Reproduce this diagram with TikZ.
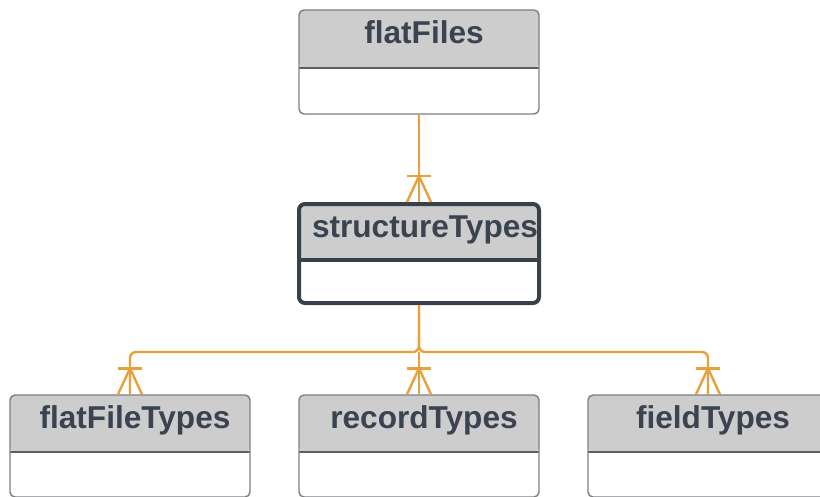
\documentclass[tikz,border=0pt]{standalone}
\usepackage{fontspec}
\setmainfont{Liberation Sans}
\definecolor{hdr}{HTML}{CDCDCD}
\definecolor{boxline}{HTML}{7C7E82}
\definecolor{divline}{HTML}{5A5F66}
\definecolor{dark}{HTML}{3A4049}
\definecolor{txt}{HTML}{3B4350}
\definecolor{connc}{HTML}{E8A13A}
\newcommand{\crowsfoot}[1]{%
  \draw[conn] ([xshift=-12pt,yshift=26pt]#1) -- ([xshift=12pt,yshift=26pt]#1);
  \draw[conn,line join=round] ([xshift=-12pt]#1) -- ([yshift=26pt]#1) -- ([xshift=12pt]#1);}
\tikzset{
  conn/.style={draw=connc, line width=2.4pt},
  title/.style={font=\fontsize{31.6}{32}\selectfont\bfseries, text=txt, anchor=base, inner sep=0pt},
  entbox/.style n args={2}{draw=boxline, line width=1.4pt, rounded corners=5pt, fill=white,
    minimum width=240pt, minimum height=#1, inner sep=0pt,
    path picture={
      \fill[hdr] (path picture bounding box.north west) rectangle ([yshift=-#2]path picture bounding box.north east);
      \draw[divline, line width=1.4pt] ([yshift=-#2]path picture bounding box.north west) -- ([yshift=-#2]path picture bounding box.north east);}},
  mainbox/.style n args={2}{draw=dark, line width=4pt, rounded corners=6pt, fill=white,
    minimum width=240pt, minimum height=#1, inner sep=0pt,
    path picture={
      \fill[hdr] (path picture bounding box.north west) rectangle ([yshift=-#2]path picture bounding box.north east);
      \draw[dark, line width=3.5pt] ([yshift=-#2]path picture bounding box.north west) -- ([yshift=-#2]path picture bounding box.north east);}}
}
\begin{document}
\begin{tikzpicture}[x=1pt,y=-1pt]
\useasboundingbox (0,0) rectangle (820,496);
\clip (0,0) rectangle (820,496);
\fill[white] (0,0) rectangle (820,496);

\node[entbox={104pt}{58pt}] (ff) at (419,62) {};
\node[mainbox={99pt}{56pt}] (st) at (419,253.5) {};
\node[entbox={102pt}{57pt}] (ft) at (130,446) {};
\node[entbox={102pt}{57pt}] (rt) at (419,446) {};
\node[entbox={102pt}{57pt}] (fd) at (708,446) {};

\node[title] (ffT) at (424,43) {flatFiles};
\node[title] (stT) at (425,237) {structureTypes};
\node[title] (ftT) at (135,428) {flatFileTypes};
\node[title] (rtT) at (424,428) {recordTypes};
\node[title] (fdT) at (713,428) {fieldTypes};

\draw[conn] (ff.south) -- (st.north);
\crowsfoot{st.north}
\coordinate (hub) at (419,352);
\draw[conn, rounded corners=6pt] (st.south) -- (hub) -| (ft.north);
\draw[conn, rounded corners=6pt] (st.south) -- (hub) -| (fd.north);
\draw[conn] (hub) -- (rt.north);
\crowsfoot{ft.north}
\crowsfoot{rt.north}
\crowsfoot{fd.north}
\end{tikzpicture}
\end{document}
